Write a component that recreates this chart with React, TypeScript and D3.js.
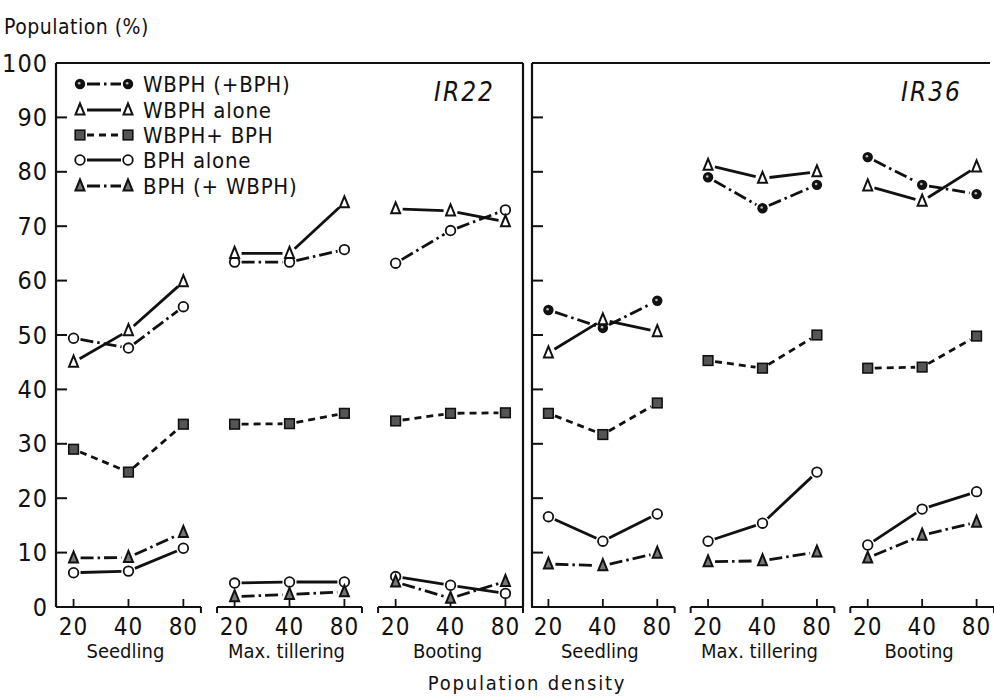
import React from "react";
import * as d3 from "d3";

const groups = ["Seedling", "Max. tillering", "Booting"];
const densities = ["20", "40", "80"];
const yTicks = [0, 10, 20, 30, 40, 50, 60, 70, 80, 90, 100];
const seriesNames = ["WBPH (+BPH)", "WBPH alone", "WBPH+ BPH", "BPH alone", "BPH (+ WBPH)"];

// values per series: 3 groups x 3 densities
const ir22WbphWithBph = [49.4, 47.6, 55.2, 63.4, 63.4, 65.7, 63.2, 69.2, 73.0];
const ir22WbphAlone = [45.0, 50.8, 59.8, 65.0, 65.0, 74.3, 73.2, 72.8, 70.8];
const ir22WbphPlusBph = [29.0, 24.8, 33.6, 33.6, 33.7, 35.6, 34.2, 35.6, 35.7];
const ir22BphAlone = [6.3, 6.6, 10.8, 4.4, 4.6, 4.6, 5.6, 4.0, 2.5];
const ir22BphWithWbph = [9.0, 9.1, 13.7, 1.9, 2.3, 2.8, 4.6, 1.6, 4.7];

const ir36WbphWithBph = [54.6, 51.3, 56.3, 79.0, 73.3, 77.6, 82.7, 77.6, 75.9];
const ir36WbphAlone = [46.7, 52.8, 50.6, 81.2, 78.8, 80.0, 77.4, 74.6, 80.9];
const ir36WbphPlusBph = [35.6, 31.7, 37.5, 45.3, 43.9, 50.0, 43.9, 44.1, 49.8];
const ir36BphAlone = [16.6, 12.1, 17.1, 12.1, 15.4, 24.8, 11.4, 18.0, 21.2];
const ir36BphWithWbph = [7.9, 7.6, 9.9, 8.3, 8.5, 10.1, 9.0, 13.2, 15.6];

type Marker = "dot" | "open" | "tri" | "ftri" | "sq";
type Dash = "dotdash" | "solid" | "dashed";

const styles: { marker: Marker; dash: Dash }[] = [
  { marker: "dot", dash: "dotdash" },
  { marker: "tri", dash: "solid" },
  { marker: "sq", dash: "dashed" },
  { marker: "open", dash: "solid" },
  { marker: "ftri", dash: "dotdash" },
];

const dashArray: Record<Dash, string | undefined> = {
  dotdash: "13 4 2.5 4",
  solid: undefined,
  dashed: "7 5",
};

const FONT = "'DejaVu Sans Condensed', 'DejaVu Sans', sans-serif";

const y = d3.scaleLinear().domain([0, 100]).range([607, 63]);

function MarkerShape({ type, x, yy }: { type: Marker; x: number; yy: number }) {
  if (type === "dot")
    return (
      <g>
        <circle cx={x} cy={yy} r={5.2} fill="#111" />
        <circle cx={x - 0.8} cy={yy - 0.8} r={1.3} fill="#bbb" />
      </g>
    );
  if (type === "open") return <circle cx={x} cy={yy} r={4.8} fill="white" stroke="#111" strokeWidth={1.8} />;
  if (type === "sq")
    return <rect x={x - 4.8} y={yy - 4.8} width={9.6} height={9.6} fill="#555" stroke="#111" strokeWidth={1.6} />;
  const h = 11;
  const w = 9;
  const pts = `${x},${yy - h / 2 - 1} ${x - w / 2},${yy + h / 2 - 1} ${x + w / 2},${yy + h / 2 - 1}`;
  if (type === "tri") return <polygon points={pts} fill="white" stroke="#111" strokeWidth={2} />;
  return <polygon points={pts} fill="#777" stroke="#111" strokeWidth={2} />;
}

function Segments({ pts, dash }: { pts: [number, number][]; dash: Dash }) {
  const gap = 7;
  const segs = [];
  for (let i = 0; i < pts.length - 1; i++) {
    const [x1, y1] = pts[i];
    const [x2, y2] = pts[i + 1];
    const dx = x2 - x1;
    const dy = y2 - y1;
    const len = Math.hypot(dx, dy);
    const ux = dx / len;
    const uy = dy / len;
    segs.push(
      <line
        key={i}
        x1={x1 + ux * gap}
        y1={y1 + uy * gap}
        x2={x2 - ux * gap}
        y2={y2 - uy * gap}
        stroke="#111"
        strokeWidth={2.8}
        strokeDasharray={dashArray[dash]}
      />
    );
  }
  return <g>{segs}</g>;
}

function Panel({
  x0,
  x1,
  axisX,
  topRight,
  rightBorder,
  data,
  label,
  openFirst,
  showYLabels,
}: {
  x0: number;
  x1: number;
  axisX: number;
  topRight: number;
  rightBorder: boolean;
  data: number[][];
  label: string;
  openFirst: boolean;
  showYLabels: boolean;
}) {
  const band = d3.scaleBand<string>().domain(groups).range([x0, x1]).paddingInner(0.1).paddingOuter(0);
  const bw = band.bandwidth();
  const pt = d3.scalePoint<string>().domain(densities).range([0, bw]).padding(0.32);
  const xOf = (gi: number, di: number) => (band(groups[gi]) as number) + (pt(densities[di]) as number);
  const top = y(100);
  const bottom = y(0);
  return (
    <g>
      <line x1={axisX} y1={top} x2={axisX} y2={bottom} stroke="#111" strokeWidth={2.2} />
      <line x1={axisX} y1={top} x2={topRight} y2={top} stroke="#111" strokeWidth={2.2} />
      {rightBorder && <line x1={x1} y1={top} x2={x1} y2={bottom} stroke="#111" strokeWidth={2.2} />}
      {yTicks.map((t) => (
        <g key={t}>
          {t > 0 && t < 100 && (
            <line x1={axisX} y1={y(t)} x2={axisX + 11} y2={y(t)} stroke="#111" strokeWidth={2} />
          )}
          {showYLabels && (
            <text
              x={axisX - 8}
              y={y(t)}
              textAnchor="end"
              dominantBaseline="central"
              fontFamily={FONT}
              fontSize={25}
              letterSpacing={1}
              fill="#111"
            >
              {t}
            </text>
          )}
        </g>
      ))}
      {groups.map((g, gi) => {
        const s = band(g) as number;
        return (
          <g key={g}>
            <line x1={s} y1={bottom} x2={s + bw} y2={bottom} stroke="#111" strokeWidth={2.2} />
            <line x1={s + bw} y1={bottom} x2={s + bw} y2={bottom + 6} stroke="#111" strokeWidth={2} />
            {gi > 0 && <line x1={s} y1={bottom} x2={s} y2={bottom + 6} stroke="#111" strokeWidth={2} />}
            {densities.map((d, di) => (
              <g key={d}>
                <line x1={xOf(gi, di)} y1={bottom} x2={xOf(gi, di)} y2={bottom - 8} stroke="#111" strokeWidth={1.8} />
                <text
                  x={xOf(gi, di)}
                  y={635}
                  textAnchor="middle"
                  fontFamily={FONT}
                  fontSize={24}
                  letterSpacing={1}
                  fill="#111"
                >
                  {d}
                </text>
              </g>
            ))}
            <text x={s + bw / 2 - 3} y={658} textAnchor="middle" fontFamily={FONT} fontSize={20} fill="#111">
              {g}
            </text>
          </g>
        );
      })}
      {data.map((vals, si) => {
        const st = styles[si];
        const marker: Marker = si === 0 && openFirst ? "open" : st.marker;
        return groups.map((g, gi) => {
          const pts: [number, number][] = densities.map((d, di) => [xOf(gi, di), y(vals[gi * 3 + di])]);
          return (
            <g key={`${si}-${gi}`}>
              <Segments pts={pts} dash={st.dash} />
              {pts.map((p, i) => (
                <MarkerShape key={i} type={marker} x={p[0]} yy={p[1]} />
              ))}
            </g>
          );
        });
      })}
      <text
        x={topRight - 28}
        y={101}
        textAnchor="end"
        fontFamily={FONT}
        fontStyle="italic"
        fontSize={26}
        letterSpacing={2}
        fill="#111"
      >
        {label}
      </text>
    </g>
  );
}

export default function App() {
  const legendY = [84, 110, 135, 160, 186];
  return (
    <svg width={994} height={699} style={{ position: "absolute", left: 0, top: 0, background: "white" }}>
      <rect width={994} height={699} fill="white" />
      <text x={4} y={34} fontFamily={FONT} fontSize={21} letterSpacing={0.5} fill="#111">
        Population (%)
      </text>
      <Panel
        x0={56}
        x1={523}
        axisX={56}
        topRight={523}
        rightBorder={true}
        data={[ir22WbphWithBph, ir22WbphAlone, ir22WbphPlusBph, ir22BphAlone, ir22BphWithWbph]}
        label="IR22"
        openFirst={true}
        showYLabels={true}
      />
      <Panel
        x0={531}
        x1={994}
        axisX={532}
        topRight={990}
        rightBorder={false}
        data={[ir36WbphWithBph, ir36WbphAlone, ir36WbphPlusBph, ir36BphAlone, ir36BphWithWbph]}
        label="IR36"
        openFirst={false}
        showYLabels={false}
      />
      {seriesNames.map((n, i) => {
        const st = styles[i];
        const ly = legendY[i];
        return (
          <g key={n}>
            <Segments
              pts={[
                [80, ly],
                [128, ly],
              ]}
              dash={st.dash}
            />
            <MarkerShape type={st.marker} x={80} yy={ly} />
            <MarkerShape type={st.marker} x={128} yy={ly} />
            <text
              x={143}
              y={ly}
              dominantBaseline="central"
              fontFamily={FONT}
              fontSize={22}
              letterSpacing={0.8}
              fill="#111"
            >
              {n}
            </text>
          </g>
        );
      })}
      <text x={527} y={690} textAnchor="middle" fontFamily={FONT} fontSize={20} letterSpacing={1.8} fill="#111">
        Population density
      </text>
    </svg>
  );
}
